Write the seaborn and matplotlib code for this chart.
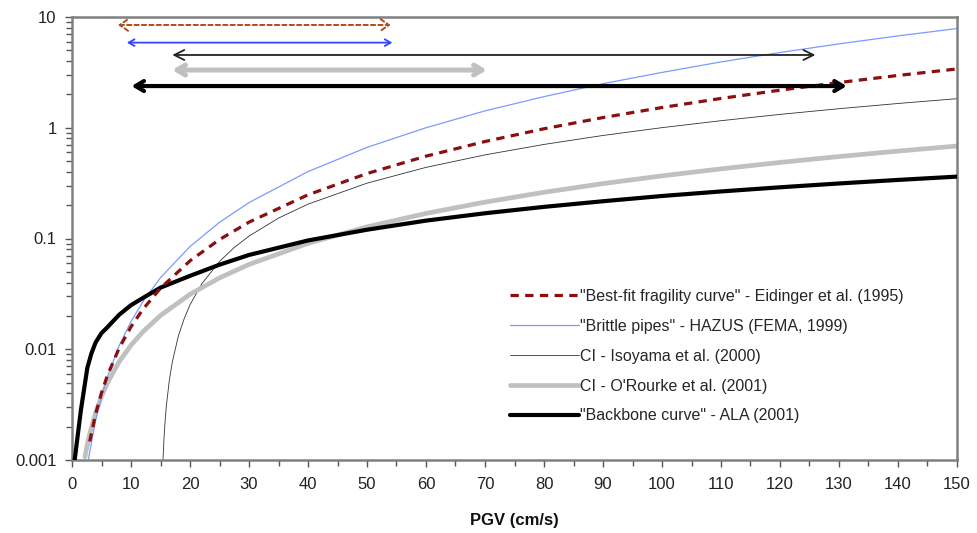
import numpy as np
import pandas as pd
import matplotlib
matplotlib.use("Agg")
import matplotlib.pyplot as plt
import seaborn as sns
from matplotlib.ticker import FixedLocator, FixedFormatter, LogLocator, NullFormatter

# ---------------- data ----------------
pgv_eid = [3, 4, 5, 6, 8, 10, 12, 15, 20, 25, 30, 40, 50, 60, 70, 80, 90, 100, 110, 120, 130, 140, 150]
rr_eid = [0.00147, 0.0026, 0.00405, 0.0058, 0.01025, 0.01595, 0.0229, 0.0356, 0.0629, 0.0979, 0.1405,
          0.248, 0.386, 0.554, 0.751, 0.979, 1.236, 1.523, 1.839, 2.184, 2.56, 2.966, 3.395]

pgv_haz = [2.8, 3, 4, 5, 6, 8, 10, 12, 15, 20, 25, 30, 40, 50, 60, 70, 80, 90, 100, 110, 120, 130, 140, 150]
rr_haz = [0.00101, 0.00118, 0.00226, 0.00374, 0.00564, 0.0108, 0.0178, 0.0268, 0.0443, 0.0846, 0.140,
          0.211, 0.402, 0.665, 1.00, 1.42, 1.91, 2.50, 3.16, 3.93, 4.78, 5.72, 6.75, 7.87]

pgv_iso = [15.2, 15.4, 15.6, 15.8, 16, 16.5, 17, 18, 19, 20, 22, 25, 27.5, 30, 35, 40, 50, 60, 70, 80, 90,
           100, 110, 120, 130, 140, 150]
rr_iso = [0.0003, 0.00095, 0.00160, 0.00232, 0.00311, 0.00527, 0.00766, 0.0130, 0.0188, 0.0252, 0.0390,
          0.0620, 0.0830, 0.1051, 0.1528, 0.2042, 0.316, 0.4386, 0.569, 0.707, 0.852, 1.002, 1.158, 1.320,
          1.486, 1.656, 1.830]

pgv_oro = [2.2, 2.5, 3, 4, 5, 6, 8, 10, 12, 15, 20, 25, 30, 40, 50, 60, 70, 80, 90, 100, 110, 120, 130, 140, 150]
rr_oro = [0.00107, 0.0013, 0.00172, 0.00267, 0.00376, 0.00497, 0.00772, 0.01086, 0.01435, 0.02019, 0.03135,
          0.0441, 0.0583, 0.0905, 0.1274, 0.1684, 0.2131, 0.2614, 0.3131, 0.3678, 0.4255, 0.4862, 0.5495,
          0.6155, 0.684]

pgv_ala = [0.45, 1.5, 2.6, 3.3, 4, 5, 6, 8, 10, 12, 15, 20, 25, 30, 40, 50, 60, 70, 80, 90, 100, 110, 120,
           130, 140, 150]
rr_ala = [0.001, 0.0028, 0.0068, 0.0092, 0.0115, 0.014, 0.0158, 0.0205, 0.025, 0.029, 0.036, 0.046, 0.058,
          0.071, 0.096, 0.12, 0.145, 0.169, 0.193, 0.217, 0.242, 0.266, 0.290, 0.314, 0.338, 0.362]

labels = ['"Best-fit fragility curve" - Eidinger et al. (1995)',
          '"Brittle pipes" - HAZUS (FEMA, 1999)',
          'CI - Isoyama et al. (2000)',
          "CI - O'Rourke et al. (2001)",
          '"Backbone curve" - ALA (2001)']

# data ranges of each study (arrows at top): start PGV, end PGV, level
range_start = [7.8, 9.3, 17.0, 17.0, 10.1]
range_end = [54.0, 54.3, 126.0, 70.3, 131.3]
range_level = [8.47, 5.87, 4.54, 3.32, 2.38]

x_ticks = list(range(0, 151, 10))
y_ticks = [0.001, 0.01, 0.1, 1, 10]
y_tick_labels = ["0.001", "0.01", "0.1", "1", "10"]

# ---------------- styling ----------------
sns.set_theme(style="white")
plt.rcParams['font.family'] = ['Liberation Sans Narrow', 'Liberation Sans', 'DejaVu Sans']

fig = plt.figure(figsize=(9.78, 5.33), dpi=100)
ax = fig.add_axes([72 / 978, 1 - 460 / 533, (957 - 72) / 978, (460 - 17) / 533])

styles = [
    dict(color="#8B0F0F", lw=2.3, linestyle=(0, (2.6, 2.0))),
    dict(color="#7A9BFF", lw=0.9, linestyle="-"),
    dict(color="#333333", lw=0.6, linestyle="-"),
    dict(color="#C0C0C0", lw=3.4, linestyle="-"),
    dict(color="#000000", lw=3.0, linestyle="-"),
]
series = [(pgv_eid, rr_eid), (pgv_haz, rr_haz), (pgv_iso, rr_iso), (pgv_oro, rr_oro), (pgv_ala, rr_ala)]
zorders = [4, 3, 2, 2, 3]

for (xs, ys), lab, st, zo in zip(series, labels, styles, zorders):
    df = pd.DataFrame({"PGV": xs, "RR": ys})
    sns.lineplot(data=df, x="PGV", y="RR", ax=ax, label=lab, estimator=None, sort=False,
                 zorder=zo, **st)

ax.set_yscale("log")
ax.set_xlim(0, 150)
ax.set_ylim(0.001, 10)

# arrows showing data ranges
arrow_styles = [
    dict(color="#B04A1E", lw=1.4, ls=(0, (2.2, 1.6)), head="<->,head_length=0.5,head_width=0.35"),
    dict(color="#3344FF", lw=1.3, ls="-", head="<->,head_length=0.35,head_width=0.2"),
    dict(color="#222222", lw=1.3, ls="-", head="<->,head_length=0.6,head_width=0.3"),
    dict(color="#C0C0C0", lw=3.6, ls="-", head="<->,head_length=0.5,head_width=0.3"),
    dict(color="#000000", lw=3.0, ls="-", head="<->,head_length=0.5,head_width=0.3"),
]
for x0, x1, lv, st in zip(range_start, range_end, range_level, arrow_styles):
    ax.annotate("", xy=(x1, lv), xytext=(x0, lv),
                arrowprops=dict(arrowstyle=st["head"], color=st["color"], lw=st["lw"],
                                linestyle=st["ls"], shrinkA=0, shrinkB=0),
                zorder=5)

# ticks
ax.xaxis.set_major_locator(FixedLocator(x_ticks))
ax.xaxis.set_minor_locator(FixedLocator(list(range(5, 150, 10))))
ax.yaxis.set_major_locator(FixedLocator(y_ticks))
ax.yaxis.set_major_formatter(FixedFormatter(y_tick_labels))
ax.yaxis.set_minor_locator(LogLocator(base=10, subs=np.arange(2, 10), numticks=20))
ax.yaxis.set_minor_formatter(NullFormatter())
ax.tick_params(axis="both", which="major", direction="out", length=5, width=1, color="#555555",
               labelsize=12, labelcolor="#222222", left=True, bottom=True)
ax.tick_params(axis="x", which="major", pad=7)
ax.tick_params(axis="y", which="major", pad=6)
ax.tick_params(axis="both", which="minor", direction="out", length=4, width=1, color="#555555",
               left=True, bottom=True)

for side in ["left", "right", "top", "bottom"]:
    ax.spines[side].set_visible(True)
    ax.spines[side].set_color("#808080")
    ax.spines[side].set_linewidth(1.8)

ax.set_xlabel("PGV (cm/s)", fontsize=12, fontweight="bold", labelpad=15, color="#111111")
ax.set_ylabel("")

leg = ax.legend(loc="upper left", bbox_to_anchor=((510 - 72) / 885, (460 - 289) / 443),
                frameon=False, fontsize=11.5, handlelength=4.3, handletextpad=0.1,
                labelspacing=0.93, borderpad=0, borderaxespad=0)

fig.savefig("out.png", dpi=100)
